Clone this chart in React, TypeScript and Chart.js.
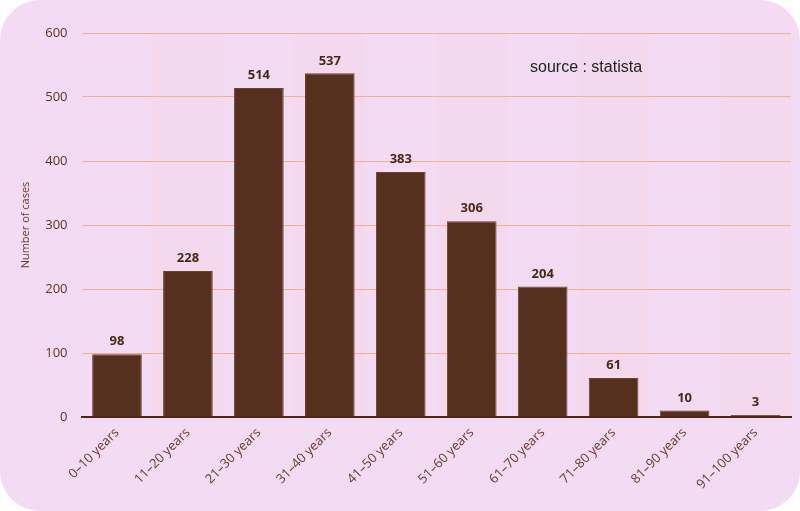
import React, { useEffect, useRef } from "react";
import { Chart, registerables } from "chart.js";

Chart.register(...registerables);

const categories = [
  "0–10 years", "11–20 years", "21–30 years", "31–40 years", "41–50 years",
  "51–60 years", "61–70 years", "71–80 years", "81–90 years", "91–100 years",
];
const cases = [98, 228, 514, 537, 383, 306, 204, 61, 10, 3];
const yTicks = [0, 100, 200, 300, 400, 500, 600];
const sourceText = "source : statista";
const yTitle = "Number of cases";

const stripes = {
  id: "stripes",
  beforeDraw(chart: any) {
    const { ctx, chartArea, scales } = chart;
    const x = scales.x;
    if (!x) return;
    ctx.save();
    ctx.fillStyle = "rgba(250, 205, 215, 0.18)";
    const half = (x.getPixelForValue(1) - x.getPixelForValue(0)) / 2;
    for (let i = 0; i < categories.length; i++) {
      if (i % 2 === 1) {
        const c = x.getPixelForValue(i);
        ctx.fillRect(c - half, chartArea.top, half * 2, chartArea.bottom - chartArea.top);
      }
    }
    ctx.restore();
  },
};

const labels = {
  id: "valueLabels",
  afterDatasetsDraw(chart: any) {
    const { ctx } = chart;
    const meta = chart.getDatasetMeta(0);
    ctx.save();
    ctx.font = "bold 13px 'Open Sans', sans-serif";
    ctx.fillStyle = "#4a2816";
    ctx.textAlign = "center";
    ctx.textBaseline = "bottom";
    meta.data.forEach((bar: any, i: number) => {
      ctx.fillText(String(cases[i]), bar.x, bar.y - 6);
    });
    ctx.font = "16px 'Liberation Sans', Arial, sans-serif";
    ctx.fillStyle = "#222";
    ctx.textAlign = "left";
    ctx.textBaseline = "middle";
    ctx.fillText(sourceText, 530, 68);
    ctx.restore();
  },
};

export default function App() {
  const ref = useRef<HTMLCanvasElement>(null);
  useEffect(() => {
    if (!ref.current) return;
    const chart = new Chart(ref.current, {
      type: "bar",
      data: {
        labels: categories,
        datasets: [
          {
            data: cases,
            backgroundColor: "#56301e",
            borderColor: "#6e4129",
            borderWidth: 1,
            categoryPercentage: 1,
            barPercentage: 0.7,
          },
        ],
      },
      options: {
        animation: false,
        responsive: false,
        maintainAspectRatio: false,
        layout: { padding: { top: 33, right: 9, left: 14, bottom: 0 } },
        plugins: { legend: { display: false }, tooltip: { enabled: false } },
        scales: {
          x: {
            grid: { display: false, drawTicks: false },
            border: { display: true, color: "#4a2816", width: 2 },
            ticks: {
              color: "#6b3a1f",
              font: { family: "'Open Sans', sans-serif", size: 13 },
              maxRotation: 45,
              minRotation: 45,
              padding: 8,
            },
            afterFit(scale: any) {
              scale.height = 94;
            },
          },
          y: {
            min: 0,
            max: 600,
            afterBuildTicks(scale: any) {
              scale.ticks = yTicks.map((v) => ({ value: v }));
            },
            grid: {
              color: (c: any) =>
                c.tick && c.tick.value === 0 ? "rgba(0,0,0,0)" : "#efb295",
              lineWidth: 1,
              drawTicks: false,
            },
            border: { display: false },
            ticks: {
              color: "#5a3418",
              font: { family: "'Open Sans', sans-serif", size: 13 },
              padding: 14,
            },
            title: {
              display: true,
              text: yTitle,
              color: "#6b3a1f",
              font: { family: "'Open Sans', sans-serif", size: 11 },
              padding: { top: 5, bottom: 0 },
            },
            afterFit(scale: any) {
              scale.width = 81.5 - 14;
            },
          },
        },
      },
      plugins: [stripes, labels],
    } as any);
    return () => chart.destroy();
  }, []);
  return (
    <div
      style={{
        position: "fixed",
        left: 0,
        top: 0,
        width: 800,
        height: 511,
        background: "#fff",
      }}
    >
      <div
        style={{
          width: 800,
          height: 511,
          background: "#f3dcf3",
          borderRadius: 40,
          overflow: "hidden",
        }}
      >
        <canvas ref={ref} width={800} height={511} style={{ display: "block" }} />
      </div>
    </div>
  );
}
